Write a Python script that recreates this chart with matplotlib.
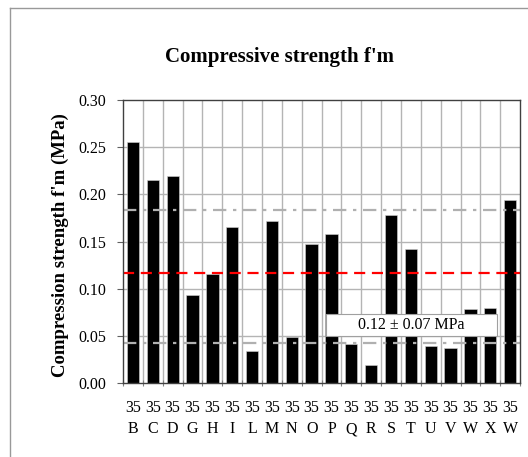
import matplotlib
matplotlib.use("Agg")
import matplotlib.pyplot as plt
from matplotlib.lines import Line2D
from matplotlib.patches import Rectangle
import numpy as np

# Specimen series and codes
series = ["35"] * 20
codes = ["B", "C", "D", "G", "H", "I", "L", "M", "N", "O",
         "P", "Q", "R", "S", "T", "U", "V", "W", "X", "W"]
# Compressive strength f'm per specimen (MPa)
strength = [0.256, 0.215, 0.2195, 0.093, 0.116, 0.165, 0.034, 0.172, 0.049, 0.148,
            0.158, 0.042, 0.019, 0.178, 0.142, 0.040, 0.037, 0.079, 0.080, 0.194]
# Mean and mean ± standard deviation reference lines (MPa)
mean_value = 0.117
upper_value = 0.183
lower_value = 0.043
summary_text = "0.12 ± 0.07 MPa"

plt.rcParams["font.family"] = ["Liberation Serif", "DejaVu Serif"]

fig = plt.figure(figsize=(5.28, 4.57), dpi=100)
ax = fig.add_axes([0.233, 0.1613, 0.752, 0.6199])

x = np.arange(len(strength))
ax.bar(x, strength, width=0.62, color="black", edgecolor="#d0d0d0",
       linewidth=0.4, zorder=3)

ax.set_xlim(-0.5, len(strength) - 0.5)
ax.set_ylim(0, 0.30)
ax.set_yticks(np.arange(0, 0.301, 0.05))
ax.set_yticklabels([f"{v:.2f}" for v in np.arange(0, 0.301, 0.05)], fontsize=11.5)

ax.set_xticks(x)
ax.set_xticklabels([f"{s}\n{c}" for s, c in zip(series, codes)], fontsize=11.5,
                   linespacing=1.45)
ax.tick_params(axis="x", length=0, pad=12)
ax.set_xticks(np.arange(-0.5, len(strength), 1.0), minor=True)
ax.tick_params(axis="x", which="minor", length=4, direction="inout",
               color="#808080", width=0.8)
ax.tick_params(axis="y", length=4, direction="out", pad=8, color="#606060",
               width=0.8)

# Grid: horizontal at major y ticks, vertical at category boundaries
ax.grid(False)
for v in np.arange(0.05, 0.30, 0.05):
    ax.axhline(v, color="#b4b4b4", linewidth=1.0, zorder=1)
for b in np.arange(0.5, len(strength) - 0.5, 1.0):
    ax.axvline(b, color="#b4b4b4", linewidth=1.0, zorder=1)

for sp in ax.spines.values():
    sp.set_color("#404040")
    sp.set_linewidth(1.0)
    sp.set_zorder(5)

ax.axhline(upper_value, color="#b0b0b0", linewidth=1.6,
           dashes=(6, 3, 1.5, 3), zorder=4)
ax.axhline(lower_value, color="#b0b0b0", linewidth=1.6,
           dashes=(6, 3, 1.5, 3), zorder=4)
ax.axhline(mean_value, color="#ff0000", linewidth=1.6,
           dashes=(5, 3), zorder=4)

# Summary label box
ax.add_patch(Rectangle((0.511, 0.167), 0.431, 0.078, transform=ax.transAxes,
                       facecolor="white", edgecolor="#a0a0a0", linewidth=0.8,
                       zorder=6))
ax.text(0.7265, 0.206, summary_text, transform=ax.transAxes, ha="center",
        va="center", fontsize=11.5, zorder=7)

fig.text(0.529, 0.864, "Compressive strength f'm", ha="center", va="baseline",
         fontsize=15, fontweight="bold")
fig.text(0.114, 0.464, "Compression strength f'm (MPa)", ha="center",
         va="center", rotation=90, fontsize=13.5, fontweight="bold")

# Chart area border
fig.add_artist(Line2D([10 / 528, 10 / 528], [1 - 8 / 457, 0], color="#999999",
                      linewidth=1.0, transform=fig.transFigure))
fig.add_artist(Line2D([10 / 528, 1], [1 - 8 / 457, 1 - 8 / 457], color="#999999",
                      linewidth=1.0, transform=fig.transFigure))

fig.savefig("out.png", dpi=100)
